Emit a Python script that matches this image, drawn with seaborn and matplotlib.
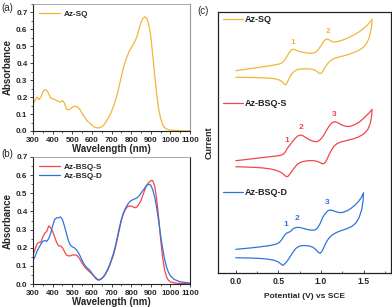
import numpy as np
import pandas as pd
import matplotlib
matplotlib.use('Agg')
import matplotlib.pyplot as plt
from matplotlib.ticker import MultipleLocator
import seaborn as sns

# ---- absorption spectra (wavelength in nm) ----
wl_sq = [300, 310, 320, 330, 340, 350, 360, 370, 380, 390, 400, 410, 420, 430, 440, 450,
         460, 470, 480, 490, 500, 510, 520, 530, 540, 550, 560, 570, 580, 590, 600, 610,
         620, 630, 640, 650, 660, 670, 680, 690, 700, 710, 720, 730, 740, 750, 760, 770,
         780, 790, 800, 810, 820, 830, 840, 850, 860, 870, 880, 890, 900, 910, 920, 930,
         940, 950, 960, 970, 980, 990, 1000, 1020, 1050, 1100]
abs_sq = [0.16, 0.18, 0.20, 0.185, 0.20, 0.23, 0.245, 0.24, 0.22, 0.195, 0.19, 0.185, 0.18,
          0.175, 0.17, 0.18, 0.165, 0.13, 0.125, 0.13, 0.14, 0.145, 0.145, 0.14, 0.125, 0.105,
          0.085, 0.07, 0.055, 0.045, 0.035, 0.025, 0.02, 0.018, 0.02, 0.025, 0.035, 0.05, 0.07,
          0.09, 0.115, 0.145, 0.18, 0.22, 0.27, 0.32, 0.37, 0.41, 0.44, 0.47, 0.49, 0.51, 0.53,
          0.56, 0.60, 0.64, 0.665, 0.675, 0.665, 0.63, 0.56, 0.45, 0.33, 0.22, 0.13, 0.075,
          0.04, 0.02, 0.012, 0.008, 0.005, 0.003, 0.002, 0.001]

wl_b = [300, 310, 320, 330, 340, 350, 360, 370, 380, 390, 400, 410, 420, 430, 440, 450,
        460, 470, 480, 490, 500, 510, 520, 530, 540, 550, 560, 570, 580, 590, 600, 610,
        620, 630, 640, 650, 660, 670, 680, 690, 700, 710, 720, 730, 740, 750, 760, 770,
        780, 790, 800, 810, 820, 830, 840, 850, 860, 870, 880, 890, 900, 910, 920, 930,
        940, 950, 960, 970, 980, 990, 1000, 1020, 1050, 1100]
abs_bsq_s = [0.16, 0.19, 0.22, 0.23, 0.23, 0.26, 0.28, 0.29, 0.32, 0.31, 0.29, 0.26, 0.23,
             0.21, 0.21, 0.20, 0.18, 0.16, 0.155, 0.155, 0.16, 0.16, 0.16, 0.15, 0.135, 0.115,
             0.10, 0.085, 0.075, 0.065, 0.055, 0.045, 0.035, 0.025, 0.025, 0.03, 0.04, 0.055,
             0.075, 0.10, 0.13, 0.16, 0.20, 0.25, 0.30, 0.35, 0.385, 0.41, 0.425, 0.43, 0.43,
             0.425, 0.42, 0.425, 0.44, 0.46, 0.49, 0.52, 0.545, 0.56, 0.57, 0.57, 0.54, 0.47,
             0.37, 0.25, 0.15, 0.08, 0.04, 0.02, 0.012, 0.006, 0.003, 0.002]
abs_bsq_d = [0.13, 0.15, 0.18, 0.20, 0.22, 0.235, 0.24, 0.235, 0.25, 0.28, 0.32, 0.355, 0.365,
             0.365, 0.37, 0.355, 0.32, 0.28, 0.24, 0.215, 0.205, 0.20, 0.19, 0.175, 0.155, 0.13,
             0.11, 0.095, 0.085, 0.075, 0.06, 0.045, 0.03, 0.022, 0.022, 0.03, 0.042, 0.058,
             0.08, 0.105, 0.135, 0.17, 0.21, 0.26, 0.31, 0.355, 0.39, 0.415, 0.435, 0.45, 0.46,
             0.465, 0.47, 0.475, 0.485, 0.50, 0.515, 0.53, 0.545, 0.55, 0.545, 0.52, 0.48, 0.42,
             0.35, 0.27, 0.20, 0.14, 0.095, 0.065, 0.045, 0.025, 0.012, 0.005]

# ---- cyclic voltammograms (forward then reverse scan, stacked current, a.u.) ----
cv_sq_v = [0.00, 0.10, 0.20, 0.30, 0.40, 0.45, 0.50, 0.54, 0.57, 0.60, 0.62, 0.64, 0.66, 0.68,
           0.70, 0.74, 0.78, 0.82, 0.86, 0.90, 0.93, 0.96, 0.99, 1.02, 1.04, 1.06, 1.08, 1.10,
           1.13, 1.16, 1.20, 1.25, 1.30, 1.35, 1.40, 1.45, 1.50, 1.54, 1.57, 1.60,
           1.595, 1.58, 1.56, 1.53, 1.50, 1.45, 1.40, 1.34, 1.28, 1.22, 1.17, 1.13, 1.10, 1.07,
           1.04, 1.02, 1.00, 0.98, 0.96, 0.93, 0.89, 0.84, 0.79, 0.74, 0.70, 0.67, 0.64, 0.62,
           0.60, 0.59, 0.575, 0.56, 0.54, 0.51, 0.46, 0.40, 0.30, 0.20, 0.10, 0.00]
cv_sq_i = [20.23, 20.35, 20.48, 20.6, 20.72, 20.8, 20.88, 21.0, 21.25, 21.65, 21.95, 22.2, 22.35,
           22.38, 22.3, 22.17, 22.08, 22.02, 21.98, 21.98, 22.05, 22.25, 22.6, 23.0, 23.25, 23.38,
           23.38, 23.3, 23.15, 23.1, 23.15, 23.28, 23.45, 23.65, 23.88, 24.13, 24.45, 24.75,
           25.05, 25.37,
           24.7, 24.0, 23.4, 22.9, 22.6, 22.3, 22.1, 21.9, 21.75, 21.62, 21.5, 21.35, 21.15,
           20.85, 20.45, 20.15, 19.95, 19.95, 20.1, 20.28, 20.38, 20.42, 20.42, 20.38, 20.25,
           20.05, 19.7, 19.35, 19.0, 18.85, 18.85, 18.97, 19.15, 19.3, 19.42, 19.48, 19.52,
           19.55, 19.56, 19.57]

cv_s_v = [0.00, 0.10, 0.20, 0.30, 0.40, 0.48, 0.53, 0.56, 0.58, 0.60, 0.62, 0.64, 0.67, 0.70,
          0.73, 0.76, 0.79, 0.83, 0.87, 0.91, 0.95, 0.98, 1.01, 1.04, 1.07, 1.10, 1.13, 1.16,
          1.19, 1.22, 1.26, 1.30, 1.35, 1.40, 1.45, 1.50, 1.54, 1.57, 1.60,
          1.595, 1.58, 1.55, 1.50, 1.44, 1.38, 1.30, 1.24, 1.19, 1.15, 1.12, 1.09, 1.07, 1.05,
          1.03, 1.01, 0.98, 0.94, 0.89, 0.84, 0.79, 0.75, 0.72, 0.69, 0.66, 0.63, 0.61, 0.59,
          0.57, 0.55, 0.52, 0.46, 0.40, 0.30, 0.20, 0.10, 0.00]
cv_s_i = [11.23, 11.33, 11.43, 11.53, 11.63, 11.7, 11.78, 11.9, 12.1, 12.4, 12.65, 12.85, 13.2,
          13.5, 13.72, 13.8, 13.72, 13.5, 13.3, 13.17, 13.13, 13.25, 13.5, 13.9, 14.35, 14.75,
          15.02, 15.13, 15.07, 14.92, 14.75, 14.65, 14.68, 14.85, 15.1, 15.45, 15.8, 16.05, 16.37,
          15.7, 15.0, 14.35, 13.9, 13.6, 13.42, 13.25, 13.12, 12.95, 12.65, 12.25, 11.75, 11.35,
          11.05, 10.92, 10.95, 11.08, 11.2, 11.25, 11.22, 11.15, 11.03, 10.85, 10.55, 10.2, 9.85,
          9.65, 9.65, 9.8, 9.95, 10.1, 10.3, 10.42, 10.52, 10.57, 10.6, 10.63]

cv_d_v = [0.00, 0.10, 0.20, 0.30, 0.40, 0.47, 0.51, 0.54, 0.57, 0.59, 0.61, 0.63, 0.65, 0.67,
          0.70, 0.72, 0.75, 0.79, 0.84, 0.89, 0.93, 0.96, 0.99, 1.02, 1.05, 1.08, 1.10, 1.13,
          1.17, 1.21, 1.25, 1.30, 1.35, 1.40, 1.44, 1.47, 1.50,
          1.495, 1.48, 1.45, 1.41, 1.36, 1.30, 1.24, 1.18, 1.13, 1.09, 1.06, 1.03, 1.01, 0.99,
          0.97, 0.94, 0.90, 0.85, 0.80, 0.75, 0.71, 0.68, 0.65, 0.62, 0.59, 0.56, 0.55, 0.53,
          0.50, 0.45, 0.38, 0.30, 0.20, 0.10, 0.00]
cv_d_i = [2.37, 2.45, 2.53, 2.63, 2.75, 2.88, 3.05, 3.35, 3.75, 3.95, 4.05, 4.1, 4.22, 4.4,
          4.53, 4.57, 4.55, 4.47, 4.35, 4.28, 4.3, 4.5, 4.95, 5.55, 5.95, 6.22, 6.3, 6.27,
          6.15, 6.05, 6.05, 6.2, 6.45, 6.8, 7.15, 7.5, 8.03,
          7.3, 6.4, 5.6, 5.0, 4.65, 4.42, 4.25, 4.05, 3.8, 3.45, 3.05, 2.5, 2.15, 1.97,
          2.05, 2.35, 2.6, 2.72, 2.75, 2.7, 2.5, 2.2, 1.8, 1.4, 1.05, 0.8, 0.77, 0.9,
          1.1, 1.27, 1.38, 1.45, 1.49, 1.51, 1.53]

names = ['Az-SQ', 'Az-BSQ-S', 'Az-BSQ-D']
colors = ['#F2B63A', '#F2474B', '#2F74DB']
# peak labels: (potential, current) of each numbered redox wave
peak_labels = {
    'Az-SQ': [('1', 0.67, 22.75), ('2', 1.08, 23.85)],
    'Az-BSQ-S': [('1', 0.60, 12.9), ('2', 0.76, 14.2), ('3', 1.15, 15.55)],
    'Az-BSQ-D': [('1', 0.59, 4.55), ('2', 0.72, 5.1), ('3', 1.07, 6.7)],
}
legend_y = [25.4, 17.0, 8.1]

sns.set_theme(style="ticks")
plt.rcParams['font.family'] = ['Liberation Sans', 'DejaVu Sans']
plt.rcParams['font.weight'] = 'bold'
plt.rcParams['axes.labelweight'] = 'bold'

fig = plt.figure(figsize=(3.92, 3.07), dpi=100)
ax_a = fig.add_axes([0.0842, 0.5733, 0.4005, 0.4137])
ax_b = fig.add_axes([0.0842, 0.0749, 0.4005, 0.4137])
ax_c = fig.add_axes([0.556, 0.1107, 0.441, 0.8502])

df_a = pd.DataFrame({'wl': wl_sq, 'A': abs_sq, 'name': 'Az-SQ'})
sns.lineplot(data=df_a, x='wl', y='A', hue='name', palette=[colors[0]], lw=0.9, ax=ax_a)

df_b = pd.concat([
    pd.DataFrame({'wl': wl_b, 'A': abs_bsq_s, 'name': 'Az-BSQ-S'}),
    pd.DataFrame({'wl': wl_b, 'A': abs_bsq_d, 'name': 'Az-BSQ-D'}),
])
sns.lineplot(data=df_b, x='wl', y='A', hue='name', palette=colors[1:], lw=0.9, ax=ax_b)

for ax, top in [(ax_a, 0.75), (ax_b, 0.7)]:
    ax.set_xlim(300, 1100)
    ax.set_ylim(0, top)
    ax.xaxis.set_major_locator(MultipleLocator(100))
    ax.xaxis.set_minor_locator(MultipleLocator(50))
    ax.yaxis.set_major_locator(MultipleLocator(0.1))
    ax.yaxis.set_minor_locator(MultipleLocator(0.05))
    ax.tick_params(which='major', length=2.5, width=0.6, labelsize=5.8, pad=1.5)
    ax.tick_params(which='minor', length=1.5, width=0.5)
    ax.set_xlabel('Wavelength (nm)', fontsize=7, labelpad=0.5)
    ax.set_ylabel('Absorbance', fontsize=7, labelpad=2)
    for side in ['left', 'bottom', 'right']:
        ax.spines[side].set_color('#222222')
        ax.spines[side].set_linewidth(0.8)
    ax.spines['top'].set_color('#999999')
    ax.spines['top'].set_linewidth(0.6)
    for lab in ax.get_xticklabels() + ax.get_yticklabels():
        lab.set_fontweight('bold')
    leg = ax.legend(loc='upper left', frameon=False, fontsize=5.9, handlelength=2.6,
                    borderaxespad=0.35, labelspacing=0.2, handletextpad=0.4)
    for t in leg.get_texts():
        t.set_fontweight('bold')
ax_a.spines['right'].set_color('#999999')

# ---- panel (c) ----
cv_sets = [(cv_sq_v, cv_sq_i), (cv_s_v, cv_s_i), (cv_d_v, cv_d_i)]
for name, col, (v, i), ly in zip(names, colors, cv_sets, legend_y):
    df_c = pd.DataFrame({'E': v, 'I': i})
    sns.lineplot(data=df_c, x='E', y='I', sort=False, estimator=None, color=col, lw=0.9, ax=ax_c)
    ax_c.plot([-0.15, 0.08], [ly, ly], color=col, lw=0.9)
    ax_c.text(0.11, ly, name, color='#222222', fontsize=6.5, fontweight='bold', va='center')
    for lab, e, cur in peak_labels[name]:
        ax_c.text(e, cur, lab, color=col, fontsize=6, fontweight='bold', ha='center', va='bottom')

ax_c.set_xlim(-0.21, 1.82)
ax_c.set_ylim(0, 26.1)
ax_c.xaxis.set_major_locator(MultipleLocator(0.5))
ax_c.xaxis.set_minor_locator(MultipleLocator(0.25))
ax_c.set_yticks([])
ax_c.tick_params(axis='x', which='major', direction='in', length=2.5, width=0.6, labelsize=6.2, pad=3)
ax_c.tick_params(axis='x', which='minor', direction='in', length=1.5, width=0.5)
for lab in ax_c.get_xticklabels():
    lab.set_fontweight('bold')
ax_c.set_xlabel('Potential (V) vs SCE', fontsize=6, labelpad=5)
ax_c.set_ylabel('Current', fontsize=6.5, labelpad=3)
for s in ax_c.spines.values():
    s.set_color('#222222')
    s.set_linewidth(0.9)

fig.text(0.004, 0.965, '(a)', fontsize=7, fontweight='normal')
fig.text(0.004, 0.49, '(b)', fontsize=7, fontweight='normal')
fig.text(0.503, 0.955, '(c)', fontsize=7, fontweight='normal')

fig.savefig('out.png', dpi=100)
